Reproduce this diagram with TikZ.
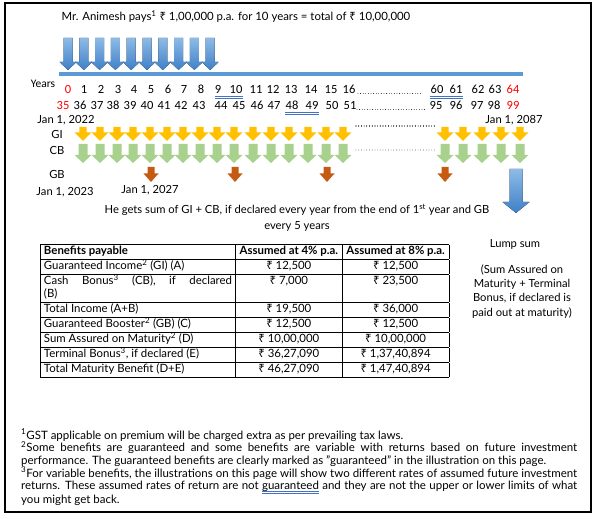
\documentclass[tikz,border=0pt]{standalone}
\usepackage{fontspec}
\setmainfont{Lato}
\newfontfamily\yearfont{Carlito}
\newfontfamily\rsfont{Noto Sans}
\usepackage{array}
\usetikzlibrary{calc}

\definecolor{premtop}{HTML}{8DBBE8}
\definecolor{prembot}{HTML}{3F80C6}
\definecolor{barblue}{HTML}{5B9BD5}
\definecolor{giyellow}{HTML}{FFC000}
\definecolor{cbgreen}{HTML}{A9D18E}
\definecolor{gbbrown}{HTML}{C55A11}
\definecolor{ulblue}{HTML}{4472C4}
\definecolor{yrred}{HTML}{FF0000}

\newcommand\rs{{\rsfont ₹}}
\newcommand\bluline[1]{{\setbox0\hbox{#1}%
  \rlap{\textcolor{ulblue}{\rule[-2.3bp]{\wd0}{0.6bp}}}%
  \rlap{\textcolor{ulblue}{\rule[-4.3bp]{\wd0}{0.6bp}}}\box0}}
% down arrow: style, x, top, bottom, shaft half width, head half width, head height
\newcommand\dnarrow[7]{%
  \fill[#1] (#2-#5,#3) -- (#2+#5,#3) -- (#2+#5,#4-#7) -- (#2+#6,#4-#7)
    -- (#2,#4) -- (#2-#6,#4-#7) -- (#2-#5,#4-#7) -- cycle;}

\tikzset{
  txt/.style={inner sep=0pt, font=\fontsize{11.2bp}{13bp}\selectfont},
  yr/.style={inner sep=0pt, anchor=base, font=\yearfont\fontsize{12.5bp}{14bp}\selectfont},
  premium/.style={top color=premtop, bottom color=prembot},
  gi/.style={fill=giyellow},
  cb/.style={fill=cbgreen},
  gb/.style={fill=gbbrown},
  dots/.style={line width=0.8bp, line cap=round, dash pattern=on 0bp off 2.6bp},
  fine dots/.style={line width=0.7bp, line cap=round, dash pattern=on 0bp off 2.7bp},
  uline/.style={ulblue, line width=0.6bp}
}

\begin{document}
\begin{tikzpicture}[x=1bp,y=-1bp]
\useasboundingbox (0,0) rectangle (601,519);
\draw[line width=1.2bp] (5,3) rectangle (591,512);

% premium paid
\node[txt, font=\fontsize{11.4bp}{13bp}\selectfont] (title) at (236,17) {Mr. Animesh pays\textsuperscript{1} \rs{} 1,00,000 p.a. for 10 years = total of \rs{} 10,00,000};
\foreach \i in {0,...,9}
  \dnarrow{premium}{68+15.8*\i}{38}{70}{4.5}{8.5}{8}
\fill[barblue] (59,72) rectangle (523,76);

% policy years and age
\node[yr, font=\yearfont\fontsize{11.5bp}{13bp}\selectfont] (years) at (43,88) {Years};
\node[yr, text=yrred] (a0) at (68,94) {0};
\foreach \n/\x in {1/84,2/101,3/118,4/134,5/151,6/168,7/184,8/201,9/218,10/236,11/256,12/273,13/291,14/311,15/331,16/349,60/437,61/456,62/478,63/495}
  \node[yr] (a\n) at (\x,94) {\n};
\node[yr, text=yrred] (a64) at (513,94) {64};
\node[yr, text=yrred] (b35) at (63,110) {35};
\foreach \n/\x in {36/80,37/97,38/113,39/130,40/147,41/164,42/181,43/199,44/221,45/239,46/257,47/274,48/292,49/312,50/332,51/350,95/436,96/456,97/477,98/494}
  \node[yr] (b\n) at (\x,110) {\n};
\node[yr, text=yrred] (b99) at (513,110) {99};
\draw[dots] (358,93.5) -- (423,93.5);
\draw[dots] (357,109.5) -- (425,109.5);
\foreach \p/\q/\r in {a9/a10/94,b48/b49/110,a60/a61/94}{
  \draw[uline] (\p.base west |- 0,\r+2.3) -- (\q.base east |- 0,\r+2.3);
  \draw[uline] (\p.base west |- 0,\r+4.3) -- (\q.base east |- 0,\r+4.3);
}

% benefits
\node[txt] (jan22) at (66,120) {Jan 1, 2022};
\node[txt] (gilbl) at (57,134) {GI};
\node[txt] (cblbl) at (57,150) {CB};
\node[txt] (gblbl) at (57,174) {GB};
\node[txt] (jan23) at (65,192) {Jan 1, 2023};
\node[txt] (jan27) at (150,190) {Jan 1, 2027};
\node[txt] (jan87) at (514,120) {Jan 1, 2087};
\foreach \x in {83,100,117,133,150,167,183,200,217,234,253,271,289,308,326,343,445,463,482,501,520}{
  \dnarrow{gi}{\x}{127}{141}{3.6}{8.3}{8.5}
  \dnarrow{cb}{\x}{144}{163}{4.5}{8.5}{8}
}
\foreach \x in {151,235,327,445}
  \dnarrow{gb}{\x}{167}{182}{3.5}{7.5}{8.5}
\draw[fine dots] (356,126) -- (436,126);
\draw[fine dots] (356,150) -- (436,150);
\dnarrow{premium}{516}{169}{213}{6.5}{13.5}{11}

\node[txt, align=center, font=\fontsize{11.2bp}{16.7bp}\selectfont] (gets) at (297,218)
  {He gets sum of GI + CB, if declared every year from the end of 1\textsuperscript{st} year and GB\\every 5 years};
\node[txt] (lump) at (515,244) {Lump sum};
\node[txt, align=center, font=\fontsize{11.2bp}{14.2bp}\selectfont] (lumpnote) at (522,291.5)
  {(Sum Assured on\\Maturity + Terminal\\Bonus, if declared is\\paid out at maturity)};

% benefit table
\node[inner sep=0pt, anchor=north west] (tbl) at (40,244) {%
  \renewcommand{\arraystretch}{1.136}%
  \setlength{\tabcolsep}{3bp}%
  \setlength{\arrayrulewidth}{0.8bp}%
  \fontsize{11.4bp}{12.5bp}\selectfont
  \begin{tabular}{|p{188bp}|>{\centering\arraybackslash}p{100bp}|>{\centering\arraybackslash}p{100bp}|}
  \hline
  \textbf{Benefits payable} & \textbf{Assumed at 4\% p.a.} & \textbf{Assumed at 8\% p.a.}\\ \hline
  Guaranteed Income\textsuperscript{2} (GI) (A) & \rs{} 12,500 & \rs{} 12,500\\ \hline
  Cash Bonus\textsuperscript{3} (CB), if declared\linebreak (B) & \rs{} 7,000 & \rs{} 23,500\\ \hline
  Total Income (A+B) & \rs{} 19,500 & \rs{} 36,000\\ \hline
  Guaranteed Booster\textsuperscript{2} (GB) (C) & \rs{} 12,500 & \rs{} 12,500\\ \hline
  Sum Assured on Maturity\textsuperscript{2} (D) & \rs{} 10,00,000 & \rs{} 10,00,000\\ \hline
  Terminal Bonus\textsuperscript{3}, if declared (E) & \rs{} 36,27,090 & \rs{} 1,37,40,894\\ \hline
  Total Maturity Benefit (D+E) & \rs{} 46,27,090 & \rs{} 1,47,40,894\\ \hline
  \end{tabular}};

% footnotes
\node[txt, anchor=north west, align=left, font=\fontsize{11.5bp}{12.6bp}\selectfont] (notes) at (21,429) {%
  \textsuperscript{1}GST applicable on premium will be charged extra as per prevailing tax laws.\\
  \hbox to 556bp{\textsuperscript{2}Some benefits are guaranteed and some benefits are variable with returns based on future investment}\\
  performance. The guaranteed benefits are clearly marked as "guaranteed" in the illustration on this page.\\
  \hbox to 556bp{\textsuperscript{3}For variable benefits, the illustrations on this page will show two different rates of assumed future investment}\\
  \hbox to 556bp{returns. These assumed rates of return are not \bluline{guaranteed} and they are not the upper or lower limits of what}\\
  you might get back.};
\end{tikzpicture}
\end{document}
